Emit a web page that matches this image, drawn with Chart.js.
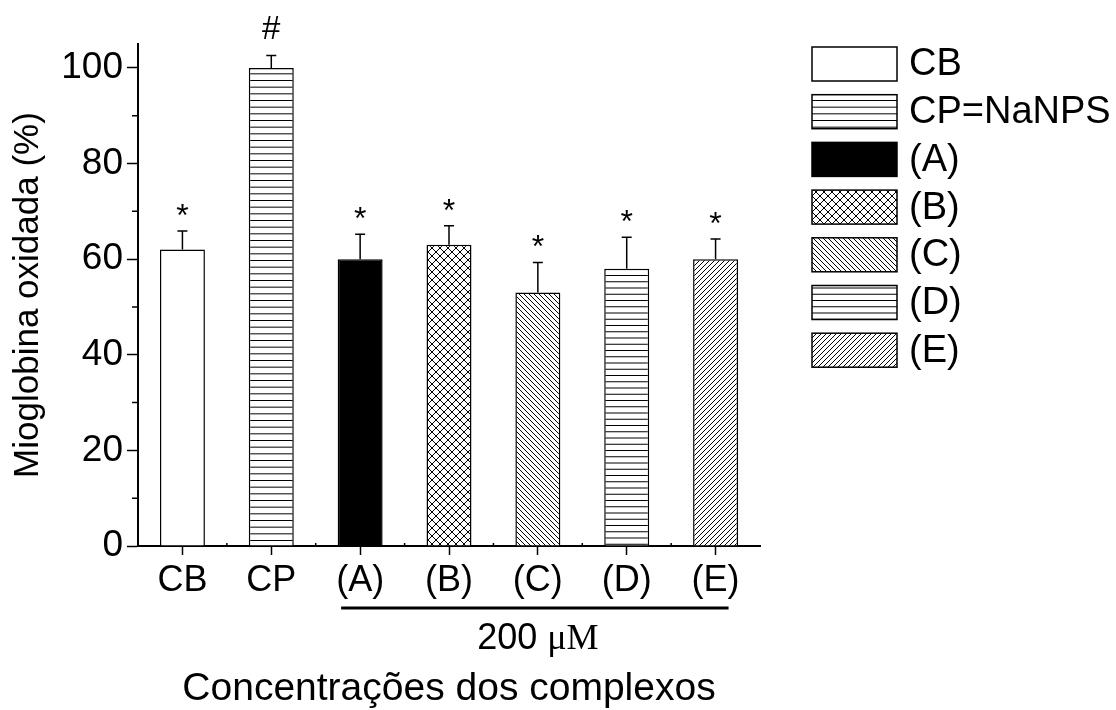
<!DOCTYPE html>
<html>
<head>
<meta charset="utf-8">
<script src="https://cdn.jsdelivr.net/npm/chart.js@4.4.1/dist/chart.umd.min.js"></script>
<style>
  html, body { margin: 0; padding: 0; background: #fff; }
  #wrap { width: 1116px; height: 710px; }
</style>
</head>
<body>
<div id="wrap"><canvas id="mioChart" width="1116" height="710"></canvas></div>
<script>
// data
const categories = ['CB', 'CP', '(A)', '(B)', '(C)', '(D)', '(E)'];
const oxidized = [62, 100, 60, 63, 53, 58, 60];
const errors = [3.9, 2.6, 5.2, 4.0, 6.3, 6.6, 4.2];
const marks = ['*', '#', '*', '*', '*', '*', '*'];
const legendLabels = ['CB', 'CP=NaNPS', '(A)', '(B)', '(C)', '(D)', '(E)'];
const fills = ['white', 'hlines', 'solid', 'cross', 'back', 'hlines2', 'fwd'];
const yTicks = [0, 20, 40, 60, 80, 100];
const yMinorTicks = [10, 30, 50, 70, 90];
const groupLabel = '200 ';
const groupUnit = 'μM';

const SANS = '"Liberation Sans", Arial, sans-serif';
const SERIF = '"Liberation Serif", "Times New Roman", serif';

function makeFill(kind) {
    if (kind === 'white') return '#fff';
    if (kind === 'solid') return '#000';
    let size = 20;
    if (kind === 'hlines2') size = 25;
    if (kind === 'cross') size = 8;
    if (kind === 'back' || kind === 'fwd') size = 5;
    const c = document.createElement('canvas');
    c.width = size;
    c.height = size;
    const g = c.getContext('2d');
    g.fillStyle = '#fff';
    g.fillRect(0, 0, size, size);
    g.strokeStyle = '#000';
    g.lineWidth = 1;
    g.beginPath();
    if (kind === 'hlines') {
        // ~6.7px spacing, like the original
        for (let k = 0; k < 3; k++) {
            g.moveTo(0, 0.5 + k * 20 / 3);
            g.lineTo(size, 0.5 + k * 20 / 3);
        }
    } else if (kind === 'hlines2') {
        for (let k = 0; k < 4; k++) {
            g.moveTo(0, 0.5 + k * 6.25);
            g.lineTo(size, 0.5 + k * 6.25);
        }
    } else {
        for (let k = -1; k <= 1; k++) {
            if (kind === 'cross' || kind === 'back') {
                g.moveTo(k * size, 0);
                g.lineTo(k * size + size, size);
            }
            if (kind === 'cross' || kind === 'fwd') {
                g.moveTo(k * size, size);
                g.lineTo(k * size + size, 0);
            }
        }
    }
    g.stroke();
    return g.createPattern(c, 'repeat');
}

const barFills = fills.map(makeFill);

const extras = {
    id: 'extras',
    afterDatasetsDraw(chart) {
        const ctx = chart.ctx;
        const x = chart.scales.x;
        const y = chart.scales.y;
        const area = chart.chartArea;
        const bars = chart.getDatasetMeta(0).data;
        ctx.save();
        ctx.strokeStyle = '#000';
        ctx.fillStyle = '#000';

        // error bars (upper half only) and significance marks
        ctx.lineWidth = 1.5;
        bars.forEach((bar, i) => {
            const top = y.getPixelForValue(oxidized[i] + errors[i]);
            ctx.beginPath();
            ctx.moveTo(bar.x, bar.y);
            ctx.lineTo(bar.x, top);
            ctx.moveTo(bar.x - 5, top);
            ctx.lineTo(bar.x + 5, top);
            ctx.stroke();
            ctx.textAlign = 'center';
            ctx.textBaseline = 'middle';
            if (marks[i] === '#') {
                ctx.font = '33px ' + SANS;
                ctx.fillText(marks[i], bar.x, top - 26);
            } else {
                ctx.font = '32px ' + SANS;
                ctx.fillText(marks[i], bar.x, top - 14);
            }
        });

        // minor ticks
        ctx.lineWidth = 1.5;
        ctx.beginPath();
        yMinorTicks.forEach(v => {
            const py = y.getPixelForValue(v);
            ctx.moveTo(area.left - 6, py);
            ctx.lineTo(area.left, py);
        });
        const step = x.getPixelForValue(1) - x.getPixelForValue(0);
        for (let i = 1; i < categories.length; i++) {
            const px = x.getPixelForValue(i) - step / 2;
            ctx.moveTo(px, area.bottom);
            ctx.lineTo(px, area.bottom - 3);
        }
        ctx.stroke();

        // group bracket under (A)..(E)
        const x0 = x.getPixelForValue(2) - 19;
        const x1 = x.getPixelForValue(6) + 13;
        ctx.lineWidth = 3;
        ctx.beginPath();
        ctx.moveTo(x0, area.bottom + 62);
        ctx.lineTo(x1, area.bottom + 62);
        ctx.stroke();

        ctx.textBaseline = 'alphabetic';
        ctx.textAlign = 'left';
        ctx.font = '36px ' + SANS;
        const w1 = ctx.measureText(groupLabel).width;
        ctx.font = '36px ' + SERIF;
        const w2 = ctx.measureText(groupUnit).width;
        const cx = (x.getPixelForValue(2) + x.getPixelForValue(6)) / 2;
        const by = area.bottom + 103;
        ctx.font = '36px ' + SANS;
        ctx.fillText(groupLabel, cx - (w1 + w2) / 2, by);
        ctx.font = '36px ' + SERIF;
        ctx.fillText(groupUnit, cx - (w1 + w2) / 2 + w1, by);
        ctx.restore();
    },
    afterDraw(chart) {
        // legend on the right
        const ctx = chart.ctx;
        const area = chart.chartArea;
        const bx = area.right + 52;
        ctx.save();
        ctx.lineWidth = 1.5;
        ctx.strokeStyle = '#000';
        legendLabels.forEach((label, i) => {
            const by = 47 + i * 47.7;
            ctx.fillStyle = barFills[i];
            ctx.fillRect(bx, by, 85, 34);
            ctx.strokeRect(bx, by, 85, 34);
            ctx.fillStyle = '#000';
            ctx.font = '38px ' + SANS;
            ctx.textAlign = 'left';
            ctx.textBaseline = 'middle';
            ctx.fillText(label, bx + 97, by + 18);
        });
        ctx.restore();
    }
};

const ctx = document.getElementById('mioChart').getContext('2d');
new Chart(ctx, {
    type: 'bar',
    data: {
        labels: categories,
        datasets: [{
            data: oxidized,
            backgroundColor: barFills,
            borderColor: '#000',
            borderWidth: 1.5,
            categoryPercentage: 1,
            barPercentage: 0.506
        }]
    },
    options: {
        responsive: false,
        animation: false,
        layout: { padding: { top: 44, right: 356, left: 0, bottom: 0 } },
        plugins: {
            legend: { display: false },
            tooltip: { enabled: false }
        },
        scales: {
            x: {
                offset: true,
                afterFit: function(scale) { scale.height = 164; },
                grid: {
                    drawOnChartArea: false,
                    drawTicks: true,
                    tickLength: 9,
                    tickWidth: 1.5,
                    tickColor: '#000',
                    offset: false
                },
                border: { color: '#000', width: 2 },
                ticks: {
                    color: '#000',
                    padding: 4,
                    font: { family: SANS, size: 36 }
                },
                title: {
                    display: true,
                    text: 'Concentrações dos complexos',
                    color: '#000',
                    font: { family: SANS, size: 39, lineHeight: 1 },
                    padding: { top: 0, bottom: 1 }
                }
            },
            y: {
                min: 0,
                max: 105,
                afterFit: function(scale) { scale.width = 138; },
                afterBuildTicks: function(scale) {
                    scale.ticks = yTicks.map(v => ({ value: v }));
                },
                grid: {
                    drawOnChartArea: false,
                    drawTicks: true,
                    tickLength: 11,
                    tickWidth: 1.5,
                    tickColor: '#000'
                },
                border: { color: '#000', width: 2 },
                ticks: {
                    color: '#000',
                    padding: 4,
                    font: { family: SANS, size: 37 }
                },
                title: {
                    display: true,
                    text: 'Mioglobina oxidada (%)',
                    color: '#000',
                    font: { family: SANS, size: 35 },
                    padding: { top: 7, bottom: 0 }
                }
            }
        }
    },
    plugins: [extras]
});
</script>
</body>
</html>
